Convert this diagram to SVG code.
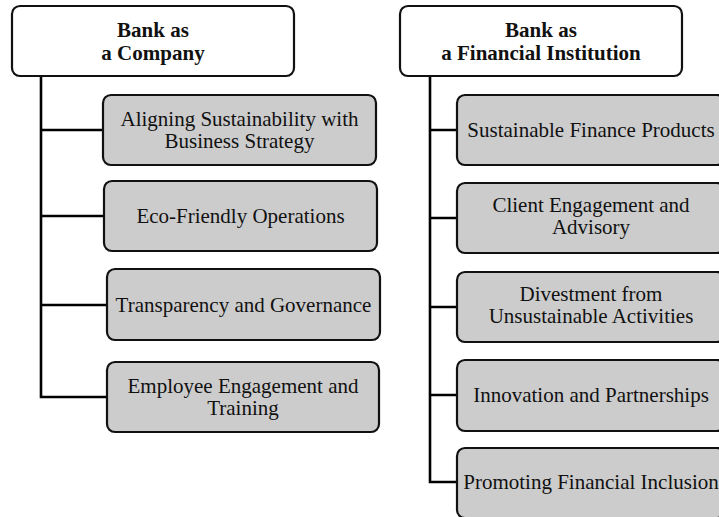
<svg xmlns="http://www.w3.org/2000/svg" width="719" height="517" viewBox="0 0 719 517">
  <style>
    .head rect { fill: #ffffff; stroke: #111111; stroke-width: 2.2; }
    .item rect { fill: #cccccc; stroke: #111111; stroke-width: 2.2; }
    text { font-family: "Liberation Serif", "Times New Roman", serif; font-size: 21px; fill: #111111; text-anchor: middle; }
    .head text { font-weight: bold; }
    .wire { fill: none; stroke: #000000; stroke-width: 2.6; }
  </style>
  <rect width="719" height="517" fill="#ffffff"/>

  <!-- connectors: one spine per column with a branch to each item -->
  <g id="connectors">
    <path class="wire" d="M41 76 V397 H107 M41 130 H103 M41 216 H104 M41 305 H107"/>
    <path class="wire" d="M430 76 V482 H457 M430 130 H457 M430 218 H457 M430 307 H457 M430 395 H457"/>
  </g>

  <!-- left column -->
  <g id="bank-company" class="head">
    <rect x="12" y="6" width="282" height="70" rx="8"/>
    <text x="153" y="37">Bank as</text>
    <text x="153" y="60">a Company</text>
  </g>
  <g id="aligning" class="item">
    <rect x="103" y="95" width="273" height="70" rx="8"/>
    <text x="239.5" y="126">Aligning Sustainability with</text>
    <text x="239.5" y="148">Business Strategy</text>
  </g>
  <g id="eco" class="item">
    <rect x="104" y="181" width="273" height="70" rx="8"/>
    <text x="240.5" y="223">Eco-Friendly Operations</text>
  </g>
  <g id="transparency" class="item">
    <rect x="107" y="269" width="273" height="71" rx="8"/>
    <text x="243.5" y="312">Transparency and Governance</text>
  </g>
  <g id="employee" class="item">
    <rect x="107" y="362" width="272" height="70" rx="8"/>
    <text x="243" y="393">Employee Engagement and</text>
    <text x="243" y="415">Training</text>
  </g>

  <!-- right column -->
  <g id="bank-institution" class="head">
    <rect x="400" y="6" width="282" height="70" rx="8"/>
    <text x="541" y="37">Bank as</text>
    <text x="541" y="60">a Financial Institution</text>
  </g>
  <g id="finance-products" class="item">
    <rect x="457" y="95" width="268" height="70" rx="8"/>
    <text x="591" y="137">Sustainable Finance Products</text>
  </g>
  <g id="client" class="item">
    <rect x="457" y="183" width="268" height="70" rx="8"/>
    <text x="591" y="212">Client Engagement and</text>
    <text x="591" y="234">Advisory</text>
  </g>
  <g id="divestment" class="item">
    <rect x="457" y="272" width="268" height="70" rx="8"/>
    <text x="591" y="301">Divestment from</text>
    <text x="591" y="323">Unsustainable Activities</text>
  </g>
  <g id="innovation" class="item">
    <rect x="457" y="360" width="268" height="71" rx="8"/>
    <text x="591" y="402">Innovation and Partnerships</text>
  </g>
  <g id="inclusion" class="item">
    <rect x="457" y="448" width="268" height="70" rx="8"/>
    <text x="591" y="489">Promoting Financial Inclusion</text>
  </g>
</svg>
